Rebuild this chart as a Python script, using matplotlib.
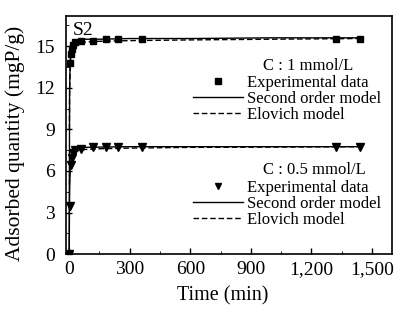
import matplotlib
matplotlib.use("Agg")
import matplotlib.pyplot as plt
from matplotlib.lines import Line2D
from matplotlib.legend import Legend
from matplotlib.ticker import MultipleLocator, FuncFormatter

plt.rcParams.update({"font.family": ["Liberation Serif", "DejaVu Serif"], "font.size": 10,
                     "xtick.direction": "in", "ytick.direction": "in"})

# experimental data
t_exp = [0, 5, 10, 15, 20, 30, 60, 120, 180, 240, 360, 1320, 1440]
q1_exp = [0, 13.8, 14.4, 14.8, 15.1, 15.3, 15.4, 15.4, 15.5, 15.5, 15.5, 15.5, 15.5]
q05_exp = [0, 3.5, 6.4, 6.9, 7.3, 7.5, 7.6, 7.7, 7.7, 7.75, 7.75, 7.75, 7.7]

# model curves
t_so = [0, 2, 5, 10, 20, 40, 80, 150, 300, 600, 1000, 1440]
q1_so = [0, 11.8, 14.0, 14.8, 15.2, 15.4, 15.5, 15.5, 15.55, 15.55, 15.6, 15.6]
q05_so = [0, 4.5, 6.3, 7.0, 7.4, 7.6, 7.7, 7.72, 7.75, 7.75, 7.75, 7.75]
t_el = [1, 2, 5, 10, 20, 40, 80, 150, 300, 600, 1000, 1440]
q1_el = [9.0, 11.5, 13.6, 14.5, 15.0, 15.2, 15.3, 15.35, 15.4, 15.45, 15.5, 15.55]
q05_el = [5.0, 5.8, 6.6, 7.0, 7.3, 7.45, 7.55, 7.6, 7.65, 7.7, 7.72, 7.75]

fig = plt.figure(figsize=(4.01, 3.13), dpi=100)
ax = fig.add_axes([0.165, 0.188, 0.813, 0.762])

ax.plot(t_so, q1_so, color="black", lw=1.0)
ax.plot(t_el, q1_el, color="black", lw=1.0, ls=(0, (4, 2)))
ax.plot(t_exp, q1_exp, "s", color="black", ms=5)
ax.plot(t_so, q05_so, color="black", lw=1.0)
ax.plot(t_el, q05_el, color="black", lw=1.0, ls=(0, (4, 2)))
ax.plot(t_exp, q05_exp, "v", color="black", ms=5.5)

ax.set_xlim(-15, 1600)
ax.set_ylim(0, 17.2)
ax.xaxis.set_major_locator(MultipleLocator(300))
ax.xaxis.set_minor_locator(MultipleLocator(150))
ax.yaxis.set_major_locator(MultipleLocator(3))
ax.yaxis.set_minor_locator(MultipleLocator(1.5))
ax.xaxis.set_major_formatter(FuncFormatter(lambda v, p: f"{int(v):,}"))
ax.tick_params(labelsize=14, length=4, width=1, top=False, right=False, pad=5)
ax.tick_params(axis="y", pad=8)
ax.tick_params(which="minor", length=2.5)
for s in ax.spines.values():
    s.set_linewidth(1.2)

ax.set_xlabel("Time (min)", fontsize=14.5)
ax.set_ylabel("Adsorbed quantity (mgP/g)", fontsize=15.5)
ax.xaxis.set_label_coords(0.48, -0.135)
ax.yaxis.set_label_coords(-0.125, 0.465)
ax.text(0.02, 0.975, "S2", transform=ax.transAxes, fontsize=14, va="top", ha="left")


def legend_group(marker, title, y):
    handles = [Line2D([], [], ls="none", marker=marker, color="black", ms=5),
               Line2D([], [], color="black", lw=1.0),
               Line2D([], [], color="black", lw=1.0, ls=(0, (4, 2)))]
    labels = ["Experimental data", "Second order model", "Elovich model"]
    leg = Legend(ax, handles, labels, loc="upper left", bbox_to_anchor=(0.39, y),
                 frameon=False, fontsize=12, handlelength=3.0, handletextpad=0.2,
                 labelspacing=0.0, borderaxespad=0, borderpad=0)
    ax.add_artist(leg)
    ax.text(0.605, y + 0.005, title, transform=ax.transAxes, fontsize=12, va="bottom")


legend_group("s", "C : 1 mmol/L", 0.75)
legend_group("v", "C : 0.5 mmol/L", 0.313)

fig.savefig("out.png", dpi=100)
